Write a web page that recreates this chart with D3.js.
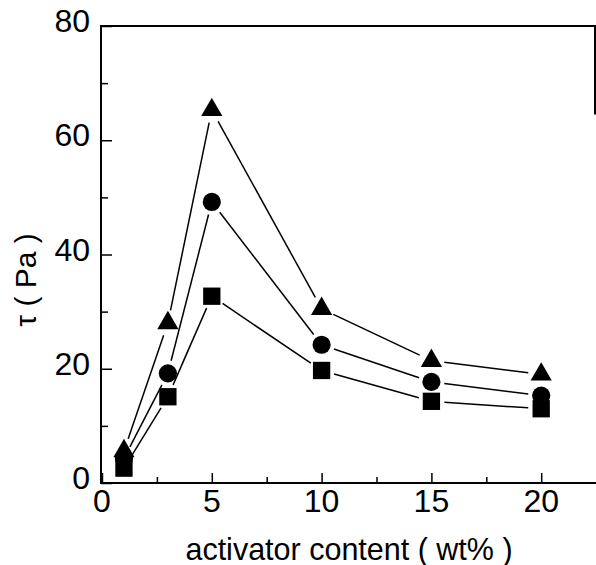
<!DOCTYPE html>
<meta charset="utf-8">
<style>
    body { margin: 0; background: #fff; }
    text { font-family: "Liberation Sans", Arial, sans-serif; fill: #000; }
</style>
<body>
<script src="https://cdn.jsdelivr.net/npm/d3@7"></script>
<script>
    var width = 596,
        height = 565

    // activator content (wt%)
    var content = [1, 3, 5, 10, 15, 20]
    // yield stress tau (Pa), one array per series
    var tauTriangle = [5.6, 28, 65.3, 30.5, 21.4, 19]
    var tauCircle = [4.3, 19.2, 49.2, 24.2, 17.7, 15.3]
    var tauSquare = [2.6, 15.1, 32.7, 19.7, 14.3, 13]

    var xMajor = [0, 5, 10, 15, 20]
    var xMinor = [2.5, 7.5, 12.5, 17.5]
    var yMajor = [0, 20, 40, 60, 80]
    var yMinor = [10, 30, 50, 70]

    var series = [
        { shape: "triangle", values: tauTriangle },
        { shape: "circle", values: tauCircle },
        { shape: "square", values: tauSquare }
    ]

    var plotL = 101, plotR = 595, plotT = 26, plotB = 483

    var x = d3.scaleLinear().domain([0, 22.45]).range([plotL + 1, plotR])
    var y = d3.scaleLinear().domain([0, 80]).range([plotB, plotT])

    var svg = d3.select("body").append("svg")
        .attr("width", width)
        .attr("height", height)

    // frame (right side is cut off in the scan below the top part)
    var frame = svg.append("path")
        .attr("d", "M" + plotR + "," + y(64.5) + "V" + plotT + "H" + plotL + "V" + plotB + "H" + width)
        .attr("fill", "none")
        .attr("stroke", "#000")
        .attr("stroke-width", 2)

    // inward ticks
    var xAxis = d3.axisTop(x).tickValues(xMajor).tickSize(10).tickFormat("")
    var xAxisMinor = d3.axisTop(x).tickValues(xMinor).tickSize(6).tickFormat("")
    var yAxis = d3.axisRight(y).tickValues(yMajor).tickSize(11).tickFormat("")
    var yAxisMinor = d3.axisRight(y).tickValues(yMinor).tickSize(7).tickFormat("")

    ;[xAxis, xAxisMinor].forEach(function (ax) {
        svg.append("g").attr("transform", "translate(0," + plotB + ")").call(ax)
    })
    ;[yAxis, yAxisMinor].forEach(function (ax) {
        svg.append("g").attr("transform", "translate(" + plotL + ",0)").call(ax)
    })
    svg.selectAll(".domain").remove()
    svg.selectAll(".tick line").attr("stroke", "#000").attr("stroke-width", 1.5)

    // tick labels
    svg.selectAll(".xlab")
        .data(xMajor)
        .enter().append("text")
        .attr("x", function (d) { return x(d) })
        .attr("y", 512)
        .attr("text-anchor", "middle")
        .style("font-size", "32px")
        .text(function (d) { return d })

    svg.selectAll(".ylab")
        .data(yMajor)
        .enter().append("text")
        .attr("x", 90)
        .attr("y", function (d) { return y(d) + 6 })
        .attr("text-anchor", "end")
        .style("font-size", "32px")
        .text(function (d) { return d })

    // axis titles
    svg.append("text")
        .attr("x", 349)
        .attr("y", 560)
        .attr("text-anchor", "middle")
        .style("font-size", "30.5px")
        .text("activator content ( wt% )")

    svg.append("text")
        .attr("transform", "translate(36,280) rotate(-90)")
        .attr("text-anchor", "middle")
        .style("font-size", "30px")
        .text("τ ( Pa )")

    var gapR = { triangle: 13, circle: 13, square: 13 }

    series.forEach(function (s) {
        var pts = s.values.map(function (v, i) { return [x(content[i]), y(v)] })

        // connecting segments, stopping short of the markers
        for (var i = 0; i < pts.length - 1; i++) {
            var a = pts[i], b = pts[i + 1]
            var dx = b[0] - a[0], dy = b[1] - a[1]
            var len = Math.sqrt(dx * dx + dy * dy)
            var g = gapR[s.shape]
            if (len <= 2 * g) continue
            svg.append("line")
                .attr("x1", a[0] + dx * g / len)
                .attr("y1", a[1] + dy * g / len)
                .attr("x2", b[0] - dx * g / len)
                .attr("y2", b[1] - dy * g / len)
                .attr("stroke", "#000")
                .attr("stroke-width", 1.5)
        }

        var sym = s.shape == "triangle" ? d3.symbolTriangle
            : s.shape == "circle" ? d3.symbolCircle : d3.symbolSquare
        var area = s.shape == "triangle" ? 195 : s.shape == "circle" ? 260 : 300

        svg.selectAll(".m-" + s.shape)
            .data(pts)
            .enter().append("path")
            .attr("d", d3.symbol().type(sym).size(area))
            .attr("transform", function (d) { return "translate(" + d[0] + "," + d[1] + ")" })
            .attr("fill", "#000")
    })
</script>
</body>
